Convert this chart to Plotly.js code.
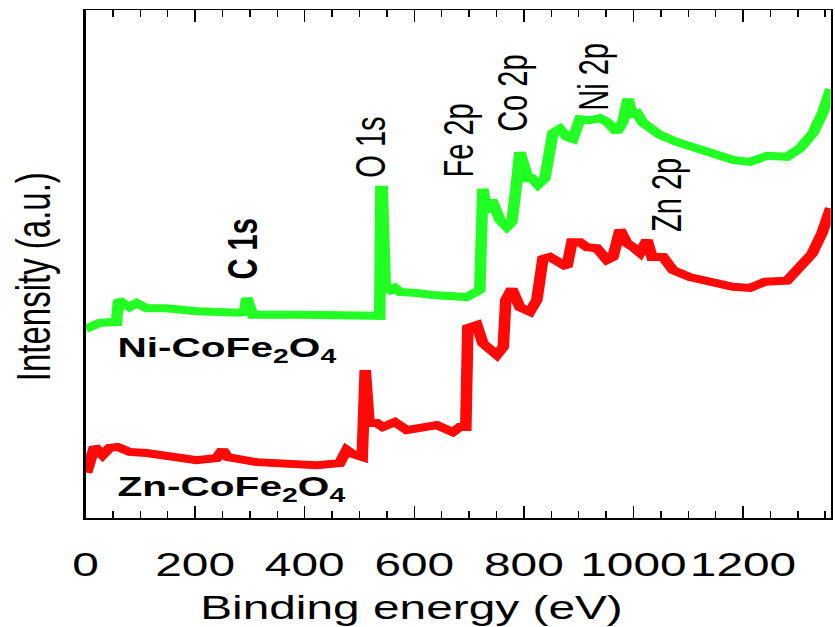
<!DOCTYPE html>
<html>
<head>
<meta charset="utf-8">
<script src="https://cdn.plot.ly/plotly-3.0.1.min.js"></script>
<style>
  html, body { margin: 0; padding: 0; overflow: hidden; background: #fff; }
  #wrap { width: 835px; height: 627px; overflow: hidden; }
  #plot { width: 576px; height: 627px; transform: scaleX(1.4497); transform-origin: 0 0; }
  #plot g.xtick { transform: translateY(17px); }
</style>
</head>
<body>
<div id="wrap"><div id="plot"></div></div>
<script>
// ---- data (binding energy in eV, intensity in arbitrary units) ----
const niEnergy = [0, 25.6, 49.3, 56.6, 60.3, 67.6, 80.4, 93.2, 111.4, 147.9, 202.7, 281.3, 290.4, 294.1, 299.5, 305.0, 390.9, 513.2, 537.0, 539.0, 541.5, 547.0, 557.1, 564.4, 573.5, 604.6, 633.8, 695.9, 716.0, 719.6, 725.1, 732.4, 741.6, 756.2, 769.0, 778.1, 785.4, 792.7, 800.0, 807.3, 814.6, 825.6, 838.4, 847.5, 853.0, 865.8, 878.5, 889.5, 902.3, 920.6, 938.8, 951.6, 969.9, 980.8, 990.0, 997.3, 1006.4, 1017.4, 1048.4, 1079.5, 1121.5, 1152.5, 1181.7, 1212.8, 1225.6, 1243.9, 1280.4, 1304.1, 1327.9, 1346.1, 1360];
const niIntensity = [37.2, 38.4, 38.6, 38.6, 42.9, 42.5, 41.5, 42.3, 41.3, 41.3, 40.7, 40.4, 40.6, 43.3, 40.4, 40.0, 40.0, 39.6, 39.8, 64.6, 64.6, 45.9, 44.9, 45.3, 44.5, 44.3, 43.9, 43.5, 44.5, 44.9, 64.8, 60.2, 62.6, 58.7, 57.3, 58.3, 64.6, 72.0, 69.5, 66.9, 66.9, 65.6, 66.9, 73.4, 75.8, 76.6, 75.0, 74.6, 78.5, 78.3, 78.7, 78.0, 76.0, 78.0, 82.5, 79.5, 79.7, 77.8, 75.4, 74.0, 72.4, 71.3, 70.5, 70.1, 70.5, 71.3, 71.1, 72.8, 75.8, 79.9, 84.4];

const znEnergy = [1.8, 11.0, 16.4, 31.1, 43.8, 58.4, 80.4, 111.4, 158.9, 202.7, 239.3, 250.2, 259.4, 312.3, 421.9, 463.9, 476.7, 487.7, 505.0, 507.5, 510.5, 517.5, 531.5, 542.5, 564.4, 586.3, 615.5, 641.1, 670.3, 683.1, 694.1, 697.7, 714.2, 725.1, 750.7, 762.4, 767.1, 778.1, 792.7, 811.0, 823.7, 834.7, 847.5, 865.8, 878.5, 887.7, 902.3, 915.1, 933.3, 951.6, 962.6, 975.4, 988.2, 999.1, 1011.9, 1024.7, 1033.8, 1053.9, 1072.2, 1103.2, 1134.3, 1181.7, 1212.8, 1240.2, 1280.4, 1304.1, 1326.0, 1344.3, 1360];
const znIntensity = [8.9, 13.0, 14.0, 12.4, 13.8, 14.0, 13.0, 12.8, 12.0, 11.4, 11.8, 13.4, 12.0, 11.0, 10.4, 10.8, 13.4, 12.6, 12.0, 29.1, 29.1, 18.7, 18.7, 17.9, 18.9, 17.3, 17.7, 18.3, 16.9, 17.9, 17.9, 37.4, 38.0, 34.4, 32.1, 33.7, 42.9, 45.1, 41.5, 40.6, 42.9, 51.0, 51.4, 50.2, 49.4, 54.3, 54.3, 53.3, 53.1, 50.8, 51.4, 56.7, 54.1, 53.3, 52.2, 54.7, 51.4, 51.4, 48.8, 47.4, 46.5, 45.5, 45.3, 46.5, 46.7, 49.4, 52.0, 56.1, 61.0];

const sampleNames = ['Ni-CoFe<sub>2</sub>O<sub>4</sub>', 'Zn-CoFe<sub>2</sub>O<sub>4</sub>'];
const peakLabels = ['C 1s', 'O 1s', 'Fe 2p', 'Co 2p', 'Ni 2p', 'Zn 2p'];
const tickVals = [0, 200, 400, 600, 800, 1000, 1200];
const tickText = ['0', '200', '400', '600', '800', '1000', '1200'];
const xTitle = 'Binding energy (eV)';
const yTitle = 'Intensity (a.u.)';

// ---- chart ----
const FONT = 'Liberation Sans, Arial, sans-serif';
const traces = [
  { x: niEnergy, y: niIntensity, name: sampleNames[0], type: 'scatter', mode: 'lines',
    line: { color: '#22ff22', width: 8 } },
  { x: znEnergy, y: znIntensity, name: sampleNames[1], type: 'scatter', mode: 'lines',
    line: { color: '#ff0808', width: 8 } }
];

function peak(text, x, y, bold) {
  return { text: bold ? '<b>' + text + '</b>' : text, x: x, y: y, xref: 'x', yref: 'y',
    textangle: -90, showarrow: false, xanchor: 'center', yanchor: 'middle',
    font: { family: FONT, size: 29, color: '#000' } };
}

const annotations = [
  peak(peakLabels[0], 285, 53.0, true),
  peak(peakLabels[1], 520, 73.0, false),
  peak(peakLabels[2], 681, 74.4, false),
  peak(peakLabels[3], 778, 83.5, false),
  peak(peakLabels[4], 928, 86.8, false),
  peak(peakLabels[5], 1061, 63.6, false),
  { text: '<b>' + sampleNames[0] + '</b>', x: 53, y: 33.2, xref: 'x', yref: 'y',
    xanchor: 'left', yanchor: 'middle', showarrow: false,
    font: { family: FONT, size: 28, color: '#000' } },
  { text: '<b>' + sampleNames[1] + '</b>', x: 53, y: 5.8, xref: 'x', yref: 'y',
    xanchor: 'left', yanchor: 'middle', showarrow: false,
    font: { family: FONT, size: 28, color: '#000' } },
  { text: xTitle, x: 595, y: -0.177, xref: 'x', yref: 'paper',
    xanchor: 'center', yanchor: 'middle', showarrow: false,
    font: { family: FONT, size: 33, color: '#000' } },
  { text: yTitle, x: -0.07, y: 0.474, xref: 'paper', yref: 'paper', textangle: -90,
    xanchor: 'center', yanchor: 'middle', showarrow: false,
    font: { family: FONT, size: 33, color: '#000' } }
];

const layout = {
  width: 576, height: 627,
  margin: { l: 59, r: 3, t: 10, b: 109, pad: 0 },
  paper_bgcolor: '#fff', plot_bgcolor: '#fff',
  showlegend: false,
  font: { family: FONT, color: '#000' },
  xaxis: {
    range: [0, 1360], tickmode: 'array', tickvals: tickVals, ticktext: tickText,
    ticks: 'inside', ticklen: 12, tickwidth: 1, tickcolor: '#000',
    minor: { dtick: 50, tick0: 0, ticks: 'inside', ticklen: 7, tickwidth: 1, tickcolor: '#000' },
    showline: true, linecolor: '#000', linewidth: 1.5, mirror: 'ticks',
    showgrid: false, zeroline: false, tickangle: 0, ticklabelstandoff: 0,
    tickfont: { family: FONT, size: 33, color: '#000' }
  },
  yaxis: {
    range: [0, 100], showticklabels: false, ticks: '',
    showline: true, linecolor: '#000', linewidth: 1.5, mirror: true,
    showgrid: false, zeroline: false
  },
  annotations: annotations
};

Plotly.newPlot('plot', traces, layout, { displayModeBar: false, staticPlot: true });
</script>
</body>
</html>
